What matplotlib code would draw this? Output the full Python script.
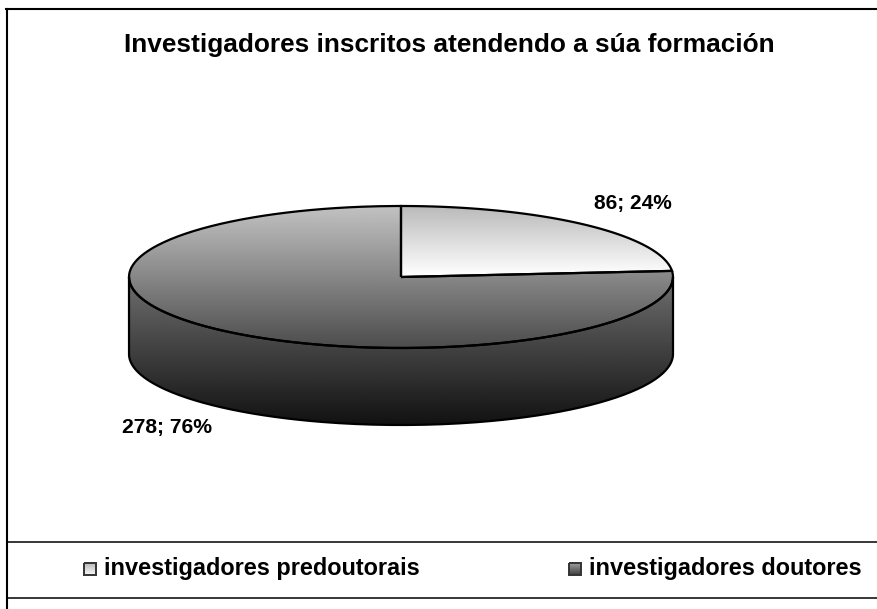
# pie chart (fake 3D) of researchers by training

import numpy as np
import matplotlib
matplotlib.use("Agg")
import matplotlib.pyplot as plt
from matplotlib.path import Path
from matplotlib.patches import PathPatch

# data:
title = "Investigadores inscritos atendendo a súa formación"
categories = ["investigadores predoutorais", "investigadores doutores"]
values = [86, 278]
percents = [24, 76]

plt.rcParams["font.family"] = ["Liberation Sans", "DejaVu Sans"]

W, H = 878, 609
fig = plt.figure(figsize=(W / 100, H / 100), dpi=100)
ax = fig.add_axes([0, 0, 1, 1])
ax.axis("off")

# pie geometry, pixels
cx, cy = 401, 277
rx, ry = 272, 71
depth = 77


def ell(a):
    # a = angle counter clockwise from 3 o'clock, in radians
    return cx + rx * np.cos(a), cy - ry * np.sin(a)


def gradient(path, y0, y1, c0, c1):
    # vertical grey gradient clipped to a path
    g = np.linspace(c0, c1, 256).reshape(-1, 1)
    im = ax.imshow(g, cmap="gray", vmin=0, vmax=1, aspect="auto",
                   extent=(0, W, y1, y0), zorder=2, interpolation="bilinear")
    im.set_clip_path(PathPatch(path, transform=ax.transData))
    ax.add_patch(PathPatch(path, fc="none", ec="black", lw=1.6, zorder=3))


share = values[0] / sum(values)
start = np.pi / 2
split = start - 2 * np.pi * share

# side wall, front half of the ellipse
t = np.linspace(0, -np.pi, 200)
x, y = ell(t)
verts = list(zip(x, y)) + list(zip(x[::-1], y[::-1] + depth))
gradient(Path(verts + [verts[0]]), cy - 2, cy + depth + ry, 0.44, 0.07)

# large slice
t = np.linspace(split, start - 2 * np.pi, 300)
x, y = ell(t)
verts = [(cx, cy)] + list(zip(x, y)) + [(cx, cy)]
gradient(Path(verts), cy - ry, cy + ry, 0.76, 0.3)

# small slice
t = np.linspace(start, split, 120)
x, y = ell(t)
verts = [(cx, cy)] + list(zip(x, y)) + [(cx, cy)]
gradient(Path(verts), cy - ry, cy - 1, 0.73, 1.0)

# frame lines
ax.plot([7, 7], [H, 8.5], color="black", lw=1.5, zorder=4)
ax.plot([6, W], [8.5, 8.5], color="black", lw=1.5, zorder=4)
ax.plot([7, W], [542, 542], color="black", lw=1.1, zorder=4)
ax.plot([7, W], [598, 598], color="black", lw=1.1, zorder=4)

ax.text(449.5, 52, title, ha="center", va="baseline", fontsize=18.9, fontweight="bold")
ax.text(633, 209, "%d; %d%%" % (values[0], percents[0]), ha="center", va="baseline",
        fontsize=15, fontweight="bold")
ax.text(167.5, 433, "%d; %d%%" % (values[1], percents[1]), ha="center", va="baseline",
        fontsize=15.2, fontweight="bold")

# legend
legend_x = [84, 569]
legend_c = [(0.72, 0.97), (0.62, 0.25)]
for i, lab in enumerate(categories):
    x0 = legend_x[i]
    box = Path([(x0, 563), (x0 + 12, 563), (x0 + 12, 575), (x0, 575), (x0, 563)])
    ax.imshow(np.linspace(legend_c[i][0], legend_c[i][1], 32).reshape(-1, 1), cmap="gray",
              vmin=0, vmax=1, aspect="auto", extent=(x0, x0 + 12, 575, 563), zorder=2)
    ax.add_patch(PathPatch(box, fc="none", ec="#333333", lw=1.4, zorder=3))
    ax.text(x0 + 20.5, 575, lab, ha="left", va="baseline", fontsize=16.9, fontweight="bold")

ax.set_xlim(0, W)
ax.set_ylim(H, 0)
fig.savefig("out.png", dpi=100)
